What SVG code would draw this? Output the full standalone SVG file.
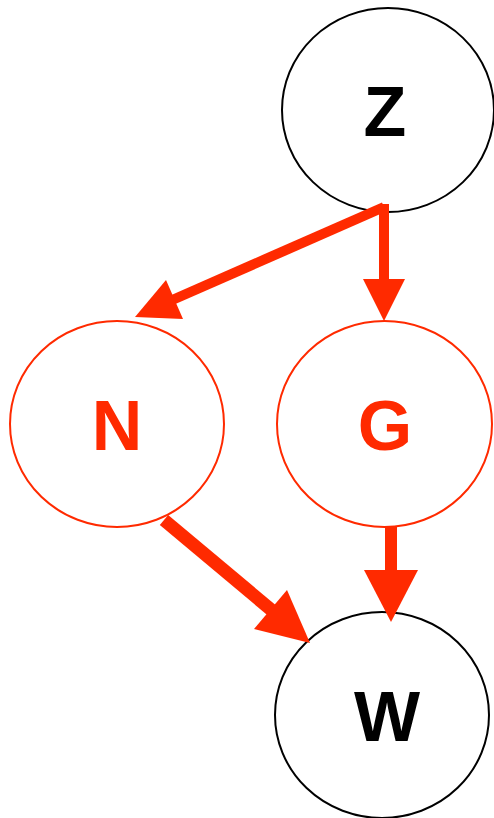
<svg xmlns="http://www.w3.org/2000/svg" width="494" height="818" viewBox="0 0 494 818">
<style>
.node-black{fill:#fff;stroke:#000;stroke-width:2}
.node-red{fill:#fff;stroke:#ff2a00;stroke-width:2}
.lbl{font-family:"Liberation Sans",Arial,sans-serif;font-weight:bold;font-size:70px;text-anchor:middle}
.lbl-black{fill:#000}
.lbl-red{fill:#ff2a00}
.edge{stroke:#ff2a00;fill:none}
.head{fill:#ff2a00;stroke:none}
</style>
<rect width="494" height="818" fill="#fff"/>
<g id="node-Z"><ellipse class="node-black" cx="388" cy="110" rx="106" ry="102"/><text class="lbl lbl-black" x="385" y="136">Z</text></g>
<g id="node-N"><ellipse class="node-red" cx="117" cy="424" rx="107" ry="103"/><text class="lbl lbl-red" x="117" y="450">N</text></g>
<g id="node-G"><ellipse class="node-red" cx="384.5" cy="424" rx="107.5" ry="103"/><text class="lbl lbl-red" x="385" y="450">G</text></g>
<g id="node-W"><ellipse class="node-black" cx="382" cy="715" rx="107" ry="103"/><text class="lbl lbl-black" x="387" y="741">W</text></g>
<g id="connectors">
<line class="edge" x1="384" y1="207" x2="170" y2="301" stroke-width="10"/>
<polygon class="head" points="135,317 183,319 166,280"/>
<line class="edge" x1="384" y1="204" x2="384" y2="284" stroke-width="10"/>
<polygon class="head" points="384,321 363,279 405,279"/>
<line class="edge" x1="164" y1="520" x2="275" y2="613" stroke-width="13"/>
<polygon class="head" points="310,643 254,629 287,590"/>
<line class="edge" x1="391" y1="527" x2="391" y2="576" stroke-width="12"/>
<polygon class="head" points="391,622 364,570 418,570"/>
</g>
</svg>
